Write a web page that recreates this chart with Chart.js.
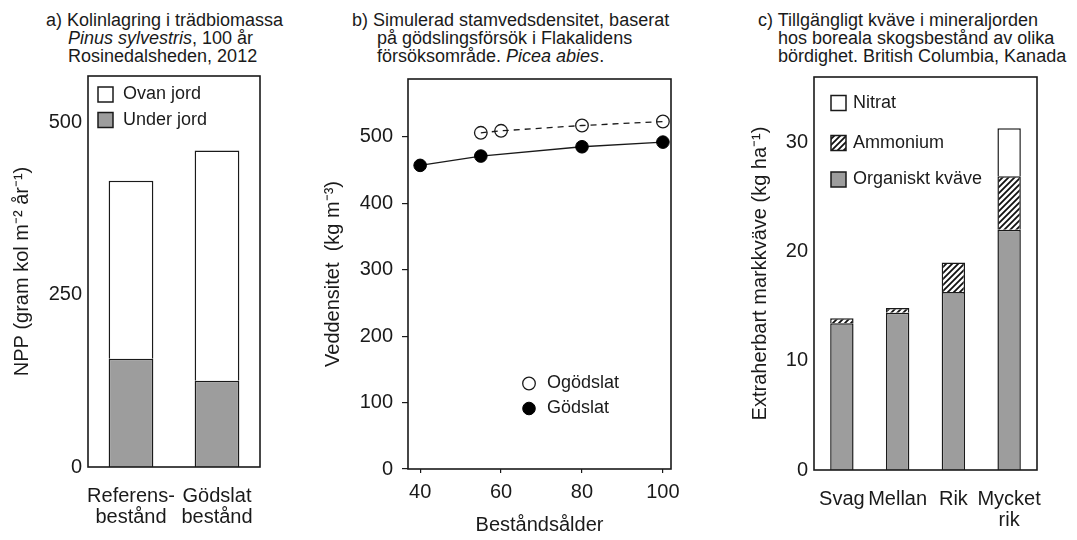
<!DOCTYPE html>
<html lang="sv">
<head>
<meta charset="utf-8">
<title>Kol, veddensitet och markkväve</title>
<script src="https://cdn.jsdelivr.net/npm/chart.js@4.4.1/dist/chart.umd.min.js"></script>
<style>
  body { margin: 0; background: #fff; }
  #wrap { position: relative; width: 1077px; height: 540px; overflow: hidden;
          font-family: "Liberation Sans", Arial, sans-serif; color: #1a1a1a; }
  canvas { position: absolute; top: 0; }
  .title { position: absolute; top: 11px; font-size: 18px; line-height: 18px; white-space: nowrap; }
</style>
</head>
<body>
<div id="wrap">
  <div class="title" style="left:46px; padding-left:22px; text-indent:-22px;">
    a) Kolinlagring i trädbiomassa<br><i>Pinus sylvestris</i>, 100 år<br>Rosinedalsheden, 2012
  </div>
  <div class="title" style="left:352px; padding-left:25px; text-indent:-25px;">
    b) Simulerad stamvedsdensitet, baserat<br>på gödslingsförsök i Flakalidens<br>försöksområde. <i>Picea abies</i>.
  </div>
  <div class="title" style="left:758px; padding-left:20px; text-indent:-20px;">
    c) Tillgängligt kväve i mineraljorden<br>hos boreala skogsbestånd av olika<br>bördighet. British Columbia, Kanada
  </div>
  <canvas id="chartA" width="300" height="540" style="left:0px"></canvas>
  <canvas id="chartB" width="400" height="540" style="left:300px"></canvas>
  <canvas id="chartC" width="377" height="540" style="left:700px"></canvas>
</div>
<script>
// a) NPP, gram kol per m2 och år
const aCategories = [["Referens-", "bestånd"], ["Gödslat", "bestånd"]];
const aUnderJord = [157, 125];
const aOvanJord = [258, 334];
const aTicks = [0, 250, 500];

// b) veddensitet, kg per m3
const bAgeGodslat = [40, 55, 80, 100];
const bGodslat = [457, 471, 485, 492];
const bAgeOgodslat = [55, 60, 80, 100];
const bOgodslat = [506, 509, 517, 523];
const bYTicks = [0, 100, 200, 300, 400, 500];
const bXTicks = [40, 60, 80, 100];

// c) extraherbart markkväve, kg per ha
const cCategories = ["Svag", "Mellan", "Rik", ["Mycket", "rik"]];
const cOrganiskt = [13.45, 14.4, 16.3, 22.0];
const cAmmonium = [0.45, 0.45, 2.7, 4.9];
const cNitrat = [null, null, null, 4.4];
const cTicks = [0, 10, 20, 30];

const INK = "#1a1a1a";
const GREY = "#9d9d9d";
const FONT = '"Liberation Sans", Arial, sans-serif';

Chart.defaults.font.family = FONT;
Chart.defaults.color = INK;
Chart.defaults.animation = false;

// hatch for ammonium
function hatch() {
  const s = 6;
  const c = document.createElement("canvas");
  c.width = s; c.height = s;
  const g = c.getContext("2d");
  g.fillStyle = "#fff";
  g.fillRect(0, 0, s, s);
  g.strokeStyle = "#111";
  g.lineWidth = 1.8;
  g.beginPath();
  g.moveTo(0, s); g.lineTo(s, 0);
  g.moveTo(-1, 1); g.lineTo(1, -1);
  g.moveTo(s - 1, s + 1); g.lineTo(s + 1, s - 1);
  g.stroke();
  return g.createPattern(c, "repeat");
}

// box round the plot area
const framePlugin = {
  id: "frame",
  afterDraw(chart) {
    const { ctx, chartArea: a } = chart;
    ctx.save();
    ctx.strokeStyle = INK;
    ctx.lineWidth = 1.6;
    ctx.strokeRect(a.left, a.top, a.right - a.left, a.bottom - a.top);
    ctx.restore();
  }
};

// legend drawn inside the plot area
const keyPlugin = {
  id: "key",
  afterDraw(chart, args, opts) {
    const { ctx, chartArea: a } = chart;
    ctx.save();
    ctx.font = "18px " + FONT;
    ctx.textBaseline = "middle";
    opts.items.forEach(it => {
      const ds = chart.data.datasets[it.index];
      const x = a.left + opts.x;
      const y = a.top + it.y;
      if (opts.marker === "circle") {
        ctx.beginPath();
        ctx.arc(x, y, ds.pointRadius, 0, Math.PI * 2);
        ctx.fillStyle = ds.pointBackgroundColor;
        ctx.fill();
        ctx.lineWidth = ds.pointBorderWidth;
        ctx.strokeStyle = ds.pointBorderColor;
        ctx.stroke();
      } else {
        const s = opts.size;
        ctx.fillStyle = ds.backgroundColor;
        ctx.fillRect(x, y - s / 2, s, s);
        ctx.lineWidth = 1.5;
        ctx.strokeStyle = INK;
        ctx.strokeRect(x, y - s / 2, s, s);
      }
      ctx.fillStyle = INK;
      ctx.fillText(ds.label, a.left + opts.textX, y);
    });
    ctx.restore();
  }
};

const fixedTicks = values => scale => { scale.ticks = values.map(v => ({ value: v })); };
const noGrid = { display: false, drawTicks: false };

new Chart(document.getElementById("chartA"), {
  type: "bar",
  data: {
    labels: aCategories,
    datasets: [
      { label: "Under jord", data: aUnderJord, backgroundColor: GREY, borderColor: INK, borderWidth: 1.5 },
      { label: "Ovan jord", data: aOvanJord, backgroundColor: "#fff", borderColor: INK, borderWidth: 1.5 }
    ]
  },
  options: {
    responsive: false,
    devicePixelRatio: 1,
    barPercentage: 0.52,
    categoryPercentage: 1,
    layout: { padding: { top: 76, right: 40, left: 0, bottom: 0 } },
    scales: {
      x: {
        stacked: true,
        grid: noGrid,
        border: { display: false },
        ticks: { font: { size: 20, lineHeight: 1.05 }, padding: 19, maxRotation: 0, autoSkip: false },
        afterFit(s) { s.height = 73; }
      },
      y: {
        stacked: true,
        min: 0,
        max: 567,
        afterBuildTicks: fixedTicks(aTicks),
        grid: noGrid,
        border: { display: false },
        ticks: { font: { size: 20 }, padding: 6 },
        title: { display: true, text: "NPP (gram kol m⁻² år⁻¹)", font: { size: 20 }, padding: { top: 10 } },
        afterFit(s) { s.width = 88; }
      }
    },
    plugins: {
      legend: { display: false },
      tooltip: { enabled: false },
      key: { x: 10, textX: 35, size: 15, items: [{ index: 1, y: 18.5 }, { index: 0, y: 44 }] }
    }
  },
  plugins: [framePlugin, keyPlugin]
});

new Chart(document.getElementById("chartB"), {
  type: "line",
  data: {
    datasets: [
      {
        label: "Ogödslat",
        data: bAgeOgodslat.map((x, i) => ({ x: x, y: bOgodslat[i] })),
        borderColor: INK, borderWidth: 1.3, borderDash: [6, 5],
        pointRadius: 6.3, pointBackgroundColor: "rgba(255,255,255,0)",
        pointBorderColor: INK, pointBorderWidth: 1.3
      },
      {
        label: "Gödslat",
        data: bAgeGodslat.map((x, i) => ({ x: x, y: bGodslat[i] })),
        borderColor: INK, borderWidth: 1.3,
        pointRadius: 6.3, pointBackgroundColor: "#000",
        pointBorderColor: "#000", pointBorderWidth: 1
      }
    ]
  },
  options: {
    responsive: false,
    devicePixelRatio: 1,
    layout: { padding: { top: 79, right: 29, left: 0, bottom: 0 } },
    scales: {
      x: {
        type: "linear",
        min: 37,
        max: 102,
        afterBuildTicks: fixedTicks(bXTicks),
        grid: { drawOnChartArea: false, tickLength: 4, color: INK, lineWidth: 1.2 },
        border: { display: false },
        ticks: { font: { size: 20 }, padding: 7 },
        title: { display: true, text: "Beståndsålder", font: { size: 20 }, padding: { bottom: 3 } },
        afterFit(s) { s.height = 71; }
      },
      y: {
        min: 0,
        max: 587,
        afterBuildTicks: fixedTicks(bYTicks),
        grid: { drawOnChartArea: false, tickLength: 6, color: INK, lineWidth: 1.2 },
        border: { display: false },
        ticks: { font: { size: 20 }, padding: 9 },
        title: { display: true, text: "Veddensitet  (kg m⁻³)", font: { size: 20 }, padding: { top: 21 } },
        afterFit(s) { s.width = 108; }
      }
    },
    plugins: {
      legend: { display: false },
      tooltip: { enabled: false },
      key: { marker: "circle", x: 121, textX: 139, items: [{ index: 0, y: 304.5 }, { index: 1, y: 329.5 }] }
    }
  },
  plugins: [framePlugin, keyPlugin]
});

const AMM = hatch();
new Chart(document.getElementById("chartC"), {
  type: "bar",
  data: {
    labels: cCategories,
    datasets: [
      { label: "Organiskt kväve", data: cOrganiskt, backgroundColor: GREY, borderColor: INK, borderWidth: 1.5 },
      { label: "Ammonium", data: cAmmonium, backgroundColor: AMM, borderColor: INK, borderWidth: 1.5 },
      { label: "Nitrat", data: cNitrat, backgroundColor: "#fff", borderColor: INK, borderWidth: 1.5 }
    ]
  },
  options: {
    responsive: false,
    devicePixelRatio: 1,
    barPercentage: 0.42,
    categoryPercentage: 1,
    layout: { padding: { top: 77, right: 40, left: 0, bottom: 0 } },
    scales: {
      x: {
        stacked: true,
        grid: noGrid,
        border: { display: false },
        ticks: { font: { size: 20, lineHeight: 1.05 }, padding: 18.5, maxRotation: 0, autoSkip: false },
        afterFit(s) { s.height = 70; }
      },
      y: {
        stacked: true,
        min: 0,
        max: 36,
        afterBuildTicks: fixedTicks(cTicks),
        grid: noGrid,
        border: { display: false },
        ticks: { font: { size: 20 }, padding: 6 },
        title: { display: true, text: "Extraherbart markkväve (kg ha⁻¹)", font: { size: 20 }, padding: { top: 48 } },
        afterFit(s) { s.width = 114; }
      }
    },
    plugins: {
      legend: { display: false },
      tooltip: { enabled: false },
      key: { x: 17, textX: 39, size: 15, items: [{ index: 2, y: 26 }, { index: 1, y: 66 }, { index: 0, y: 102.5 }] }
    }
  },
  plugins: [framePlugin, keyPlugin]
});
</script>
</body>
</html>
